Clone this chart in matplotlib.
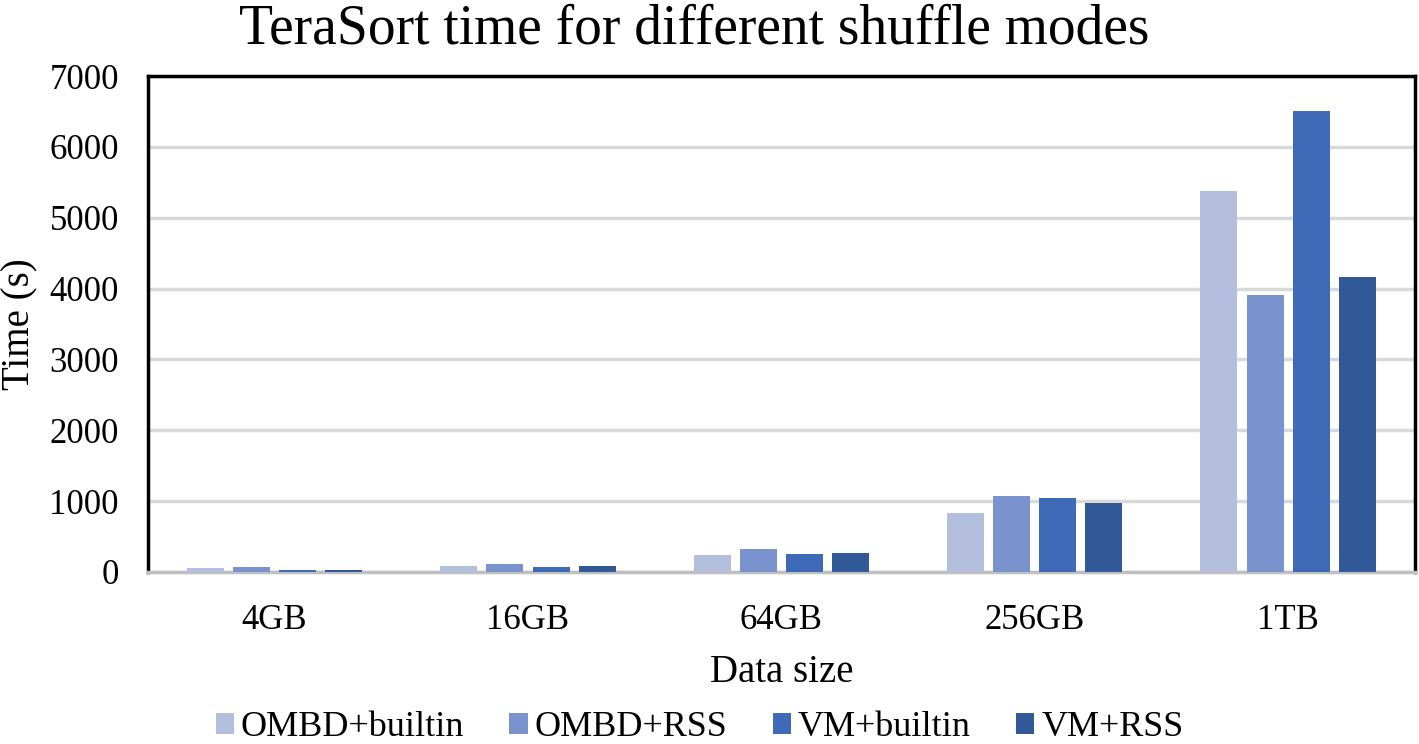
import matplotlib
matplotlib.use("Agg")
import matplotlib.pyplot as plt
import numpy as np

categories = ["4GB", "16GB", "64GB", "256GB", "1TB"]
series_names = ["OMBD+builtin", "OMBD+RSS", "VM+builtin", "VM+RSS"]
omdb_builtin = [50, 85, 240, 830, 5380]
omdb_rss = [65, 115, 325, 1070, 3910]
vm_builtin = [35, 70, 255, 1045, 6505]
vm_rss = [35, 85, 270, 970, 4160]
yticks = [0, 1000, 2000, 3000, 4000, 5000, 6000, 7000]

colors = ["#B4BFDE", "#7A93CE", "#3E6AB7", "#325997"]

plt.rcParams['font.family'] = ['Liberation Serif', 'DejaVu Serif']

fig = plt.figure(figsize=(14.19, 7.44), dpi=100)
ax = fig.add_axes([0.1043, 0.2312, 0.8927, 0.6666])

x = np.arange(len(categories))
width = 0.146
step = 0.182
data = [omdb_builtin, omdb_rss, vm_builtin, vm_rss]
for i, (vals, name, c) in enumerate(zip(data, series_names, colors)):
    ax.bar(x + (i - 1.5) * step, vals, width, color=c, label=name, zorder=3)

ax.set_xlim(-0.5, len(categories) - 0.5)
ax.set_ylim(0, 7000)
ax.set_yticks(yticks)
ax.set_xticks(x)
ax.set_xticklabels(categories)
ax.tick_params(axis='both', labelsize=25, length=0)
ax.tick_params(axis='x', pad=23)
ax.tick_params(axis='y', pad=21)
ax.yaxis.grid(True, color="#D9D9D9", linewidth=2.5, zorder=0)
ax.set_axisbelow(True)

for s in ["left", "top", "right"]:
    ax.spines[s].set_color("black")
    ax.spines[s].set_linewidth(2.5)
ax.spines["bottom"].set_color("#BFBFBF")
ax.spines["bottom"].set_linewidth(2.5)

ax.set_xlabel("Data size", fontsize=28, labelpad=12)
ax.set_ylabel("Time (s)", fontsize=28, labelpad=8)
fig.text(0.489, 0.960, "TeraSort time for different shuffle modes", fontsize=40,
         ha="center", va="center")

handles, labels = ax.get_legend_handles_labels()
fig.legend(handles, labels, loc="center", bbox_to_anchor=(0.493, 0.022), ncol=4,
           frameon=False, fontsize=26, handlelength=0.5, handleheight=0.5,
           handletextpad=0.2, columnspacing=1.25, borderpad=0.1)

fig.savefig("out.png", dpi=100)
